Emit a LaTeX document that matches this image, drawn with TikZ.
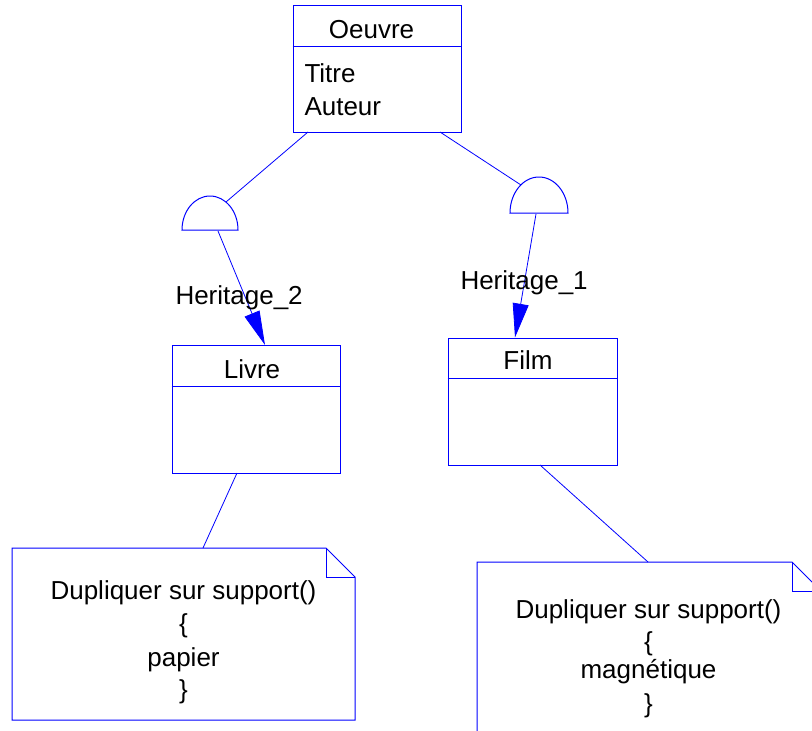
\documentclass[tikz,border=0pt]{standalone}
\usepackage{fontspec}
\setmainfont{Liberation Sans}
\usetikzlibrary{arrows.meta}
\begin{document}
\begin{tikzpicture}[x=1pt,y=-1pt,line width=1pt,
  umlbox/.style={draw=blue,fill=white,inner sep=0pt},
  txt/.style={font=\fontsize{26}{30}\selectfont,inner sep=0pt,anchor=base},
  ltxt/.style={txt,anchor=base west},
  link/.style={draw=blue,line width=0.8pt},
  inherit/.style={draw=blue,line width=0.8pt,-{Triangle[length=34pt,width=16pt]}},
  notebox/.style={draw=blue,fill=white,line width=1pt}]
\useasboundingbox (0,0) rectangle (812,731);
\clip (0,0) rectangle (812,731);
% class boxes
\node[umlbox,minimum width=168pt,minimum height=127pt] (oeuvre) at (377,68.5) {};
\draw[blue] (oeuvre.west |- 0,46) -- (oeuvre.east |- 0,46);
\node[txt] (oeuvret) at (371.5,38) {Oeuvre};
\node[ltxt] (titre) at (304,82) {Titre};
\node[ltxt] (auteur) at (304,115) {Auteur};

\node[umlbox,minimum width=168pt,minimum height=128pt] (livre) at (256,409) {};
\draw[blue] (livre.west |- 0,386.5) -- (livre.east |- 0,386.5);
\node[txt] (livret) at (252,378) {Livre};

\node[umlbox,minimum width=169pt,minimum height=127pt] (film) at (532.5,401.5) {};
\draw[blue] (film.west |- 0,378.5) -- (film.east |- 0,378.5);
\node[txt] (filmt) at (528,369) {Film};

% inheritance half circles
\draw[blue,fill=white] (182,230) arc[start angle=180,end angle=360,x radius=28,y radius=34] -- cycle;
\draw[blue,fill=white] (510,213) arc[start angle=180,end angle=360,x radius=29,y radius=36] -- cycle;
\coordinate (h2top) at (226,202);
\coordinate (h2base) at (218,231);
\coordinate (h1top) at (521,185);
\coordinate (h1base) at (536,214);
\coordinate (oeuvreL) at (308,132);
\coordinate (oeuvreR) at (440,132);
\coordinate (livreTop) at (265,345);
\coordinate (filmTop) at (515,337.5);

\draw[link] (oeuvreL) -- (h2top);
\draw[link] (oeuvreR) -- (h1top);
\draw[inherit] (h2base) -- (livreTop);
\draw[inherit] (h1base) -- (filmTop);
\node[ltxt] (her2) at (175,304) {Heritage\_2};
\node[ltxt] (her1) at (460,289) {Heritage\_1};

% notes
\draw[notebox] (12,548) -- (326,548) -- (355,577) -- (355,720) -- (12,720) -- cycle;
\draw[blue] (326,548) -- (326,577) -- (355,577);
\coordinate (note1top) at (203,548);
\node[txt] (n1a) at (183.5,599) {Dupliquer sur support()};
\node[txt] (n1b) at (183.5,632) {\{};
\node[txt] (n1c) at (183.5,666) {papier};
\node[txt] (n1d) at (183.5,698) {\}};

\draw[notebox] (477,562) -- (792,562) -- (821,591) -- (821,760) -- (477,760) -- cycle;
\draw[blue] (792,562) -- (792,591) -- (821,591);
\coordinate (note2top) at (648,562);
\node[txt] (n2a) at (648.5,618) {Dupliquer sur support()};
\node[txt] (n2b) at (648.5,650) {\{};
\node[txt] (n2c) at (648.5,678) {magnétique};
\node[txt] (n2d) at (648.5,712) {\}};

\coordinate (livreBot) at (237,473);
\coordinate (filmBot) at (540,465);
\draw[link] (livreBot) -- (note1top);
\draw[link] (filmBot) -- (note2top);
\end{tikzpicture}
\end{document}
